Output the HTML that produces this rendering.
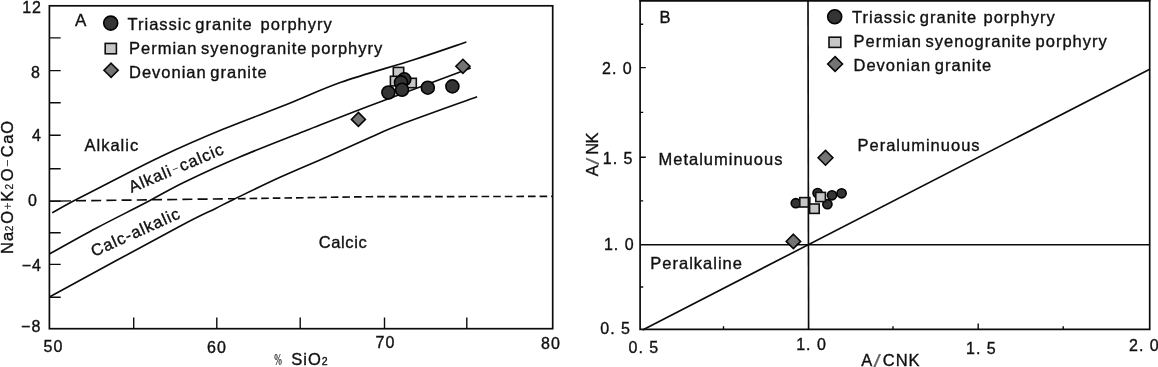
<!DOCTYPE html>
<html><head><meta charset="utf-8"><title>Granite classification diagrams</title>
<style>
html,body{margin:0;padding:0;background:#fff;}
body{width:1158px;height:367px;overflow:hidden;}
svg{display:block;filter:blur(0.35px);}
text{font-family:"Liberation Sans",sans-serif;fill:#111;stroke:#111;stroke-width:0.36px;}
.t16{font-size:16.5px;letter-spacing:1px;word-spacing:-2px;}
.n15{font-size:16px;letter-spacing:1px;}
.sub{font-size:10px;stroke-width:0.2px;}
.op{font-size:13px;stroke:none;fill:#3a3a3a;}
.sl{font-size:19px;stroke:none;fill:#686868;}
.ln{stroke:#0c0c0c;stroke-width:1.65;fill:none;stroke-linecap:butt;}
.ax{stroke:#0c0c0c;stroke-width:1.7;fill:none;}
.tk{stroke:#0c0c0c;stroke-width:1.4;fill:none;}
.c{fill:#343434;stroke:#020202;stroke-width:1.6;}
.s{fill:#c6c6c6;stroke:#101010;stroke-width:1.6;}
.d{fill:#747474;stroke:#080808;stroke-width:1.6;stroke-linejoin:miter;}
</style></head>
<body>
<svg width="1158" height="367" viewBox="0 0 1158 367">
<rect x="0" y="0" width="1158" height="367" fill="#fff"/>

<!-- ================= Panel A ================= -->
<g id="panelA">
<rect class="ax" x="49.4" y="5.8" width="503.3" height="322.9"/>
<!-- y ticks -->
<path class="tk" d="M49.4 37.9H60.7M49.4 70.6H60.7M49.4 102.7H60.7M49.4 135.2H60.7M49.4 168.7H60.7M49.4 201.1H60.7M49.4 232.8H60.7M49.4 264.4H60.7M49.4 297.3H60.7"/>
<!-- x ticks -->
<path class="tk" d="M133.7 328.7V317.5M216.8 328.7V317.5M300.2 328.7V317.5M384.5 328.7V317.5M466.8 328.7V317.5"/>
<!-- y labels -->
<text class="n15" x="42" y="13" text-anchor="end">12</text>
<text class="n15" x="41" y="78.4" text-anchor="end">8</text>
<text class="n15" x="42" y="141.4" text-anchor="end">4</text>
<text class="n15" x="38" y="205.8" text-anchor="end">0</text>
<text class="n15" x="42" y="271" text-anchor="end">−4</text>
<text class="n15" x="41.3" y="332.1" text-anchor="end">−8</text>
<!-- x labels -->
<text class="n15" x="53.5" y="352" text-anchor="middle">50</text>
<text class="n15" x="217" y="352.5" text-anchor="middle">60</text>
<text class="n15" x="385.5" y="348" text-anchor="middle">70</text>
<text class="n15" x="551" y="349.4" text-anchor="middle">80</text>
<!-- axis titles -->
<text class="t16" transform="translate(12.5,252.6) rotate(-90)" style="letter-spacing:0"><tspan x="-1.3" y="0">N</tspan><tspan x="11.6" y="0">a</tspan><tspan class="sub" x="21.4" y="0">2</tspan><tspan x="28.8" y="0">O</tspan><tspan class="op" x="42.6" y="-1">+</tspan><tspan x="50.9" y="0">K</tspan><tspan class="sub" x="63.1" y="0">2</tspan><tspan x="71.4" y="0">O</tspan><tspan class="op" x="85.6" y="-1">−</tspan><tspan x="95.3" y="0">C</tspan><tspan x="108.9" y="0">a</tspan><tspan x="118.8" y="0">O</tspan></text>
<text transform="translate(274.2,364.6) scale(0.8,1.5)" font-size="11.5" style="font-family:'Liberation Serif',serif;stroke-width:0.15px">%</text>
<text class="t16" x="291.3" y="365">SiO<tspan font-size="10.5">2</tspan></text>
<!-- curves -->
<path class="ln" d="M52.2 212.9 C55.4 211.1 63.4 206.3 71.5 202 C79.6 197.7 85.7 194.7 100.8 187 C115.9 179.3 141.8 165.6 162.1 156 C182.4 146.4 202.3 137.8 222.9 129.3 C243.5 120.8 266.2 112.6 285.9 104.8 C305.6 97.0 319.8 89.8 341 82.3 C362.2 74.8 392.1 66.7 413 60 C433.9 53.3 457.5 45.0 466.4 42"/>
<path class="ln" d="M49.4 254 C57.1 249.8 79.0 237.3 95.6 228.5 C112.2 219.7 134.2 208.8 149 201 C163.8 193.2 169.6 189.3 184.7 182 C199.8 174.7 219.3 165.6 239.7 157 C260.1 148.4 285.1 138.8 306.8 130.3 C328.5 121.8 342.5 116.2 369.8 105.8 C397.1 95.4 454.0 74.3 470.8 68"/>
<path class="ln" d="M49.4 297 C70.9 285.3 150.9 241.7 178.5 227 C206.1 212.3 206.1 213.2 215.2 208.7 C224.3 204.1 222.2 204.9 233 199.7 C243.8 194.5 264.4 184.4 280 177.3 C295.6 170.2 311.6 163.7 326.8 157 C342.0 150.3 359.0 142.4 371.2 137 C383.4 131.6 382.4 131.4 400 124.7 C417.6 118.0 464.2 101.4 477.1 96.7"/>
<!-- dashed zero line -->
<path class="tk" d="M49.4 201.2L71 200.9"/>
<path class="ln" stroke-dasharray="10 5.2" d="M76 200.8 L235 198.7"/>
<path class="ln" stroke-dasharray="7.6 4" d="M238 198.7 L370 196.7 L552 196.4"/>
<!-- field labels -->
<text class="t16" x="84.5" y="150.5">Alkalic</text>
<text class="t16" x="318.8" y="248.2" style="letter-spacing:0.6px">Calcic</text>
<text class="t16" transform="translate(131.5,193) rotate(-23)">Alkali<tspan font-size="11" dx="1" dy="-1.5" style="stroke:none;fill:#333">−</tspan><tspan dx="1" dy="1.5">calcic</tspan></text>
<text class="t16" transform="translate(94,257) rotate(-24.3)">Calc-alkalic</text>
<!-- legend -->
<text class="t16" x="74.9" y="25.6" style="letter-spacing:0;font-size:17px">A</text>
<circle class="c" cx="110.7" cy="23.1" r="7"/>
<rect class="s" x="105.2" y="43.4" width="11.2" height="10.4"/>
<path class="d" d="M111.1 63.2 L118.2 70.2 L111.1 77.3 L104 70.2Z"/>
<text class="t16" x="127.5" y="30">Triassic granite</text><text class="t16" x="260.6" y="30">porphyry</text>
<text class="t16" x="129" y="53.6">Permian syenogranite porphyry</text>
<text class="t16" x="129" y="77.8">Devonian granite</text>
<!-- data -->
<rect class="s" x="393.3" y="67.4" width="10.4" height="10.4"/>
<rect class="s" x="390.4" y="76.3" width="9.8" height="9.6"/>
<rect class="s" x="406.4" y="78.3" width="9.9" height="9.4"/>
<path class="d" d="M358.4 112.4 L365.4 119.4 L358.4 126.4 L351.4 119.4Z"/>
<path class="d" d="M462.9 59.3 L469.9 66.3 L462.9 73.3 L455.9 66.3Z"/>
<circle class="c" cx="404.3" cy="79.3" r="6.5"/>
<circle class="c" cx="401" cy="82.4" r="6.5"/>
<circle class="c" cx="388.4" cy="92.5" r="6.5"/>
<circle class="c" cx="402" cy="89.8" r="6.5"/>
<circle class="c" cx="427.8" cy="87.7" r="6.5"/>
<circle class="c" cx="452.4" cy="86.4" r="6.5"/>
</g>

<!-- ================= Panel B ================= -->
<g id="panelB">
<path class="ax" d="M640.1 0V329.4H1149.7V0"/>
<path class="ax" d="M639.4 0.8H1150.4"/>
<!-- y ticks -->
<path class="tk" d="M640.1 67.6H645.8M640.1 157.2H645.8"/>
<path class="tk" d="M640.1 24.2H643.2M640.1 112.4H643.2M640.1 200.9H643.2M640.1 287H643.2"/>
<!-- x ticks -->
<path class="tk" d="M978.2 329.4V323.6"/>
<path class="tk" d="M723.5 329.4V326.3M893 329.4V326.3M1063.2 329.4V326.3"/>
<!-- reference lines -->
<path class="ln" d="M640.1 244.7H1149.7"/>
<path class="ln" d="M642.6 329.9L1149.7 69.2"/>
<!-- y labels -->
<text class="n15" x="602" y="74.4">2. 0</text>
<text class="n15" x="602.8" y="163.5">1. 5</text>
<text class="n15" x="603.9" y="250.4">1. 0</text>
<text class="n15" x="600.3" y="334">0. 5</text>
<!-- x labels -->
<text class="n15" x="628.5" y="353">0. 5</text>
<text class="n15" x="796.2" y="349.8">1. 0</text>
<text class="n15" x="966" y="353.5">1. 5</text>
<text class="n15" x="1129" y="350.6">2. 0</text>
<!-- axis titles -->
<text class="t16" transform="translate(597.8,176.3) rotate(-90)" style="letter-spacing:0"><tspan x="0" y="0">A</tspan><tspan class="sl" x="11" y="0.8" textLength="7.8" lengthAdjust="spacingAndGlyphs">/</tspan><tspan x="21.5" y="0">N</tspan><tspan x="32.9" y="0">K</tspan></text>
<text class="t16" style="letter-spacing:0"><tspan x="861.3" y="365.6">A</tspan><tspan class="sl" x="873.2" y="367.4" textLength="7.8" lengthAdjust="spacingAndGlyphs">/</tspan><tspan x="882.8" y="365.6">C</tspan><tspan x="895.8" y="365.6">N</tspan><tspan x="908.4" y="365.6">K</tspan></text>
<!-- field labels -->
<text class="t16" x="658.5" y="164.5">Metaluminuous</text>
<text class="t16" x="857.5" y="150.5">Peraluminuous</text>
<text class="t16" x="650.3" y="268.6">Peralkaline</text>
<!-- legend -->
<text class="t16" x="659.5" y="23.2" style="letter-spacing:0">B</text>
<circle class="c" cx="834.7" cy="16.8" r="7"/>
<rect class="s" x="829" y="37.2" width="11.8" height="10.2"/>
<path class="d" d="M835.1 56.6 L842.5 64 L835.1 71.4 L827.7 64Z"/>
<text class="t16" x="852" y="22.8">Triassic granite</text><text class="t16" x="983.5" y="22.8">porphyry</text>
<text class="t16" x="853.5" y="47.3">Permian syenogranite porphyry</text>
<text class="t16" x="853.5" y="71.4">Devonian granite</text>
<!-- data -->
<circle class="c" cx="795.8" cy="203.2" r="4.6"/>
<circle class="c" cx="817.6" cy="193.1" r="4.6"/>
<circle class="c" cx="832" cy="195.3" r="4.6"/>
<circle class="c" cx="841.6" cy="193.3" r="4.6"/>
<circle class="c" cx="827.4" cy="204.2" r="4.6"/>
<rect class="s" x="799.8" y="197.6" width="10" height="9.4"/>
<rect class="s" x="815.8" y="192.4" width="9.6" height="9.2"/>
<rect class="s" x="809.6" y="204" width="9.6" height="9.4"/>
<path class="ln" d="M808 0L808.6 329.4"/>
<path class="d" d="M825.5 150.4 L832.9 157.8 L825.5 165.2 L818.1 157.8Z"/>
<path class="d" d="M793.4 234.2 L800.6 241.4 L793.4 248.6 L786.2 241.4Z"/>
</g>
</svg>
</svg>
</body></html>
